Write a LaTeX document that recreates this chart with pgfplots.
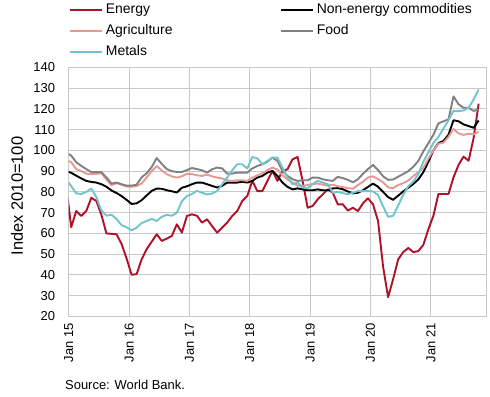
\documentclass[border=0pt]{standalone}
\usepackage{fontspec}
\setmainfont{Liberation Sans}
\usepackage{pgfplots}
\pgfplotsset{compat=1.18}
\usepackage{pgfplotstable}
\definecolor{cEn}{RGB}{176,16,40}
\definecolor{cAg}{RGB}{232,152,148}
\definecolor{cFo}{RGB}{128,128,128}
\definecolor{cMe}{RGB}{112,196,204}
\definecolor{cGrid}{RGB}{200,200,200}
\pgfplotstableread{
m en ne ag fo me
-1 83 90 95.3 98.8 86
0 63 89.2 94.3 97.5 82.8
1 70.8 87.8 91 94.3 79.3
2 68.4 86.5 90 92.5 79
3 70.8 85.3 88.8 91 80
4 77.2 84.8 88.5 89.5 81.6
5 75.6 84.5 88.7 89.5 77.5
6 69 83.7 89 89.5 71
7 60 82.5 86 87 68.5
8 59.8 80.7 83.2 84 69
9 59.6 79.5 84.2 84.5 67
10 55 78 83.5 83.7 64
11 48 76.2 82.6 83 63
12 40.1 74.2 82.5 83 61.5
13 40.4 74.5 82.8 83.5 62.8
14 47.5 76 84 87 65
15 52.4 78.3 87 89 66
16 56 80.5 90 92 67
17 59.6 81.6 92.5 96.3 66
18 56.4 81.5 90.3 93.5 68
19 57.5 80.8 88.5 91 69
20 58.8 80.3 87.5 90 68.5
21 64.4 79.7 86.9 89.6 70
22 60.4 82 87.5 89.6 75.5
23 68.4 82.7 88.7 90.5 78
24 69.2 83.7 88.6 91.5 79
25 68.5 84.5 88 91 80.5
26 65.2 84.5 87.7 90.4 79.6
27 66.8 83.7 88.3 89.3 78.8
28 63.6 82.9 87.5 90.9 79.2
29 60.4 82.1 86.9 91.7 80.4
30 62.8 82.9 86.5 91.3 83.7
31 65.2 84.5 85.6 88.8 86.9
32 68.4 84.5 85.3 88.8 90.4
33 70.8 84.5 85.6 89.3 93.3
34 75.6 84.9 85.6 89.3 93.3
35 78 84.5 85.3 89.3 91.3
36 85.3 85.3 86.9 91.3 96.8
37 80.4 86.9 88 92.5 96.2
38 80.4 87.7 89 93.3 93.3
39 85.3 89.3 90.5 94.5 94.9
40 90.1 90.1 91.7 96.5 96.5
41 85.3 87.7 90.8 94.9 96.5
42 90.1 84.5 88 90.1 91.7
43 90.9 82.4 86 87.7 86.9
44 95.7 81.2 84.5 86.1 83.7
45 96.8 81.7 83 85.3 84.5
46 85.3 81.2 82.9 85.6 82.1
47 72.4 80.8 83.3 85.6 81.7
48 73.2 80.8 83.8 86.9 83.7
49 76.4 81.2 84 86.9 85.3
50 78.8 80.8 83.5 86.1 84.5
51 81.2 80.8 83 85.6 83.7
52 79.6 81.7 83.5 85.3 79.6
53 74 81.8 82.7 87.3 80
54 74 81.3 82.3 86.6 79.4
55 71 80.2 81.8 85.8 78.9
56 72.4 79.3 81.5 84.6 79.6
57 70.8 79.6 83.3 86.1 80.4
58 74.5 80.8 84.9 88.7 80.4
59 76.9 82.4 86.9 91 80.4
60 74 84 87.5 93 80.2
61 66 82.5 86.2 90.5 78.5
62 44 80 84.6 87.5 73
63 29.3 77.5 82.2 85.8 68
64 38 76.2 81.8 86 68.5
65 47.5 78.2 83.3 87.3 73.5
66 51 80.2 84.2 88.6 78.5
67 53 82 85.5 90 82.7
68 51 83.8 87.6 92.1 85
69 51.5 86 89.5 94.9 88.5
70 54.5 89.5 91.5 99.5 94.5
71 62 94.5 96 103.5 99
72 68.5 100 100 107.5 103.5
73 79 103.5 103.2 113 106.5
74 79 104.5 103.7 114 110.5
75 79 107.5 106.5 114.9 114.5
76 87 114.5 110.3 126 119
77 93 114 108.2 122.2 118.9
78 97 112.5 107.4 120.5 119.2
79 95 111.7 108 120.5 120.5
80 106 110.9 107.7 119 124.5
81 122.5 114.4 109 119.7 129.3
}\prices
\begin{document}
\begin{tikzpicture}
\path[use as bounding box] (-68.7bp,-80.5bp) rectangle (421.3bp,316.5bp);
\begin{axis}[
  at={(0,0)}, anchor=south west,
  scale only axis, width=418bp, height=249.2bp,
  xmin=0, xmax=83.1, ymin=20, ymax=140,
  xtick={0,12,24,36,48,60,72},
  xticklabels={Jan 15,Jan 16,Jan 17,Jan 18,Jan 19,Jan 20,Jan 21},
  ytick={20,30,...,140},
  grid=major,
  major grid style={draw=cGrid, line width=1bp},
  axis line style={draw=cGrid, line width=1bp},
  tick style={draw=none},
  /pgf/number format/assume math mode=true,
  ticklabel style={font=\fontsize{13}{13}\selectfont},
  xticklabel style={rotate=90, anchor=east, inner xsep=6.5bp, inner ysep=0pt},
  yticklabel style={anchor=east, inner xsep=13.5bp, inner ysep=0pt},
  ylabel={Index 2010=100},
  every axis y label/.style={at={(axis description cs:0,0.484)}, xshift=-51.7bp, rotate=90, anchor=center, inner sep=0pt, font=\fontsize{16.5}{16.5}\selectfont},
  legend columns=2,
  legend cell align=left,
  legend image code/.code={\draw[#1, line width=2.2bp] (0bp,0bp) -- (32bp,0bp);},
  legend style={at={(axis description cs:0,1)}, anchor=south west, yshift=8.8bp,
    draw=none, fill=none, inner sep=0pt, outer sep=0pt,
    font=\fontsize{14}{14}\selectfont, row sep=8bp,
    nodes={inner sep=0pt, text height=10bp, text depth=3bp},
    /tikz/column 1/.style={column sep=3bp},
    /tikz/column 2/.style={column sep=107.5bp},
    /tikz/column 3/.style={column sep=2.5bp}},
  every axis plot/.append style={line width=1.9bp, line join=round},
]
\addplot[cEn] table[x expr=\thisrow{m}+0.5, y=en] {\prices};
\addlegendentry{Energy}
\addplot[black] table[x expr=\thisrow{m}+0.5, y=ne] {\prices};
\addlegendentry{Non-energy commodities}
\addplot[cAg] table[x expr=\thisrow{m}+0.5, y=ag] {\prices};
\addlegendentry{Agriculture}
\addplot[cFo] table[x expr=\thisrow{m}+0.5, y=fo] {\prices};
\addlegendentry{Food}
\addplot[cMe] table[x expr=\thisrow{m}+0.5, y=me] {\prices};
\addlegendentry{Metals}
\end{axis}
\node[anchor=west, inner sep=0pt, font=\fontsize{13}{13}\selectfont] at (-3.7bp,-68.5bp) {Source: World Bank.};
\end{tikzpicture}
\end{document}
